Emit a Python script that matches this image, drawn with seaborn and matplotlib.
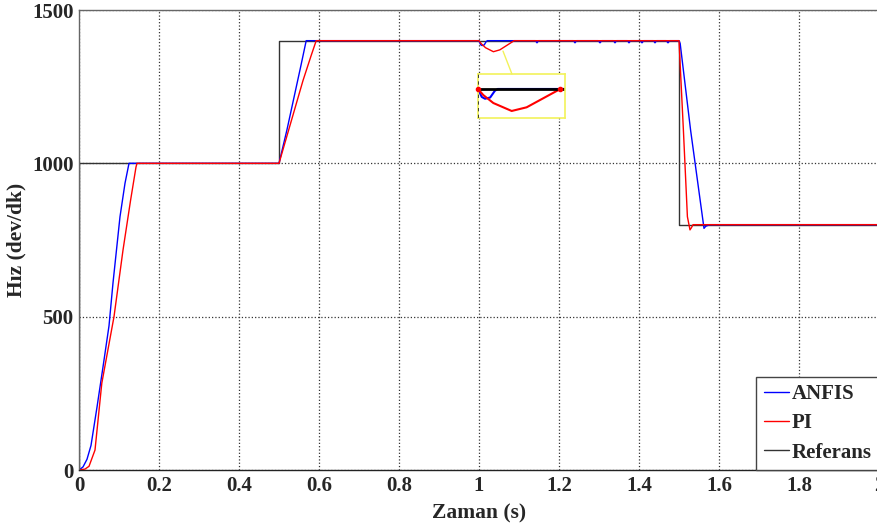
import numpy as np
import pandas as pd
import matplotlib
matplotlib.use("Agg")
import matplotlib.pyplot as plt
import seaborn as sns
from matplotlib.patches import ConnectionPatch

sns.set_theme(style="white")
plt.rcParams['font.family'] = ['Liberation Serif', 'DejaVu Serif']
plt.rcParams['font.weight'] = 'bold'

# ---- data ----
ref_t = [0, 0, 0.5, 0.5, 1.5, 1.5, 2.0]
ref_v = [0, 1000, 1000, 1400, 1400, 800, 800]

anfis_t = [0, 0.01, 0.02, 0.03, 0.045, 0.06, 0.075, 0.085, 0.1025, 0.115, 0.125,
           0.5, 0.52, 0.54, 0.555, 0.568,
           1.0, 1.004, 1.0075, 1.013, 1.018, 1.021,
           1.141, 1.145, 1.149, 1.236, 1.240, 1.244, 1.298, 1.3025, 1.307,
           1.336, 1.340, 1.344, 1.371, 1.375, 1.379, 1.403, 1.4075, 1.412,
           1.436, 1.440, 1.444, 1.468, 1.4725, 1.477,
           1.5, 1.503, 1.529, 1.5625, 1.567, 1.577, 2.0]
anfis_v = [0, 10, 35, 80, 205, 336, 470, 610, 826, 935, 1000,
           1000, 1110, 1230, 1320, 1400,
           1400, 1387, 1384, 1386, 1397, 1400,
           1400, 1393, 1400, 1400, 1393, 1400, 1400, 1393, 1400,
           1400, 1393, 1400, 1400, 1393, 1400, 1400, 1393, 1400,
           1400, 1393, 1400, 1400, 1393, 1400,
           1400, 1390, 1108, 788, 795, 800, 800]

pi_t = [0, 0.015, 0.025, 0.04, 0.057, 0.0875, 0.11, 0.129, 0.1425, 0.145,
        0.5, 0.52, 0.54, 0.56, 0.58, 0.593,
        1.0, 1.0057, 1.0164, 1.036, 1.052, 1.07, 1.088,
        1.5, 1.511, 1.521, 1.5275, 1.531, 1.535, 2.0]
pi_v = [0, 3, 12, 65, 283, 500, 717, 880, 988, 1000,
        1000, 1090, 1180, 1270, 1350, 1400,
        1400, 1390, 1377, 1364, 1370, 1385, 1400,
        1400, 1108, 826, 783, 790, 800, 800]

x_ticks = [0, 0.2, 0.4, 0.6, 0.8, 1.0, 1.2, 1.4, 1.6, 1.8, 2.0]
x_tick_labels = ["0", "0.2", "0.4", "0.6", "0.8", "1", "1.2", "1.4", "1.6", "1.8", "2"]
y_ticks = [0, 500, 1000, 1500]
y_tick_labels = ["0", "500", "1000", "1500"]

# ---- figure ----
fig = plt.figure(figsize=(8.78, 5.28), dpi=100)
ax = fig.add_axes([79/878, 58/528, 800/878, 460/528])

def draw_ref(a, lw, color):
    sns.lineplot(x=ref_t, y=ref_v, ax=a, color=color, lw=lw, sort=False,
                 estimator=None, label="Referans")

def draw_anfis(a, lw):
    sns.lineplot(x=anfis_t, y=anfis_v, ax=a, color="#0000ff", lw=lw, sort=False,
                 estimator=None, label="ANFIS")

def draw_pi(a, lw):
    sns.lineplot(x=pi_t, y=pi_v, ax=a, color="#ff0000", lw=lw, sort=False,
                 estimator=None, label="PI")

# main: reference underneath, red on top
draw_ref(ax, 1.0, "#333333")
draw_anfis(ax, 1.0)
draw_pi(ax, 1.0)

ax.set_xlim(0, 2)
ax.set_ylim(0, 1500)
ax.set_xticks(x_ticks)
ax.set_xticklabels(x_tick_labels)
ax.set_yticks(y_ticks)
ax.set_yticklabels(y_tick_labels)
ax.tick_params(direction='in', length=5, width=0.8, color='#555555',
               labelsize=15, pad=4)
for lab in ax.get_xticklabels() + ax.get_yticklabels():
    lab.set_fontweight('bold')
ax.grid(True, linestyle=':', color='#333333', linewidth=0.9)
for s in ax.spines.values():
    s.set_color('#666666')
    s.set_linewidth(1.0)
ax.spines['bottom'].set_color('#222222')
ax.set_xlabel("Zaman (s)", fontsize=15.5, fontweight='bold', labelpad=6)
ax.set_ylabel("Hız (dev/dk)", fontsize=15.5, fontweight='bold', labelpad=4)

# legend order ANFIS, PI, Referans
handles, labels = ax.get_legend_handles_labels()
order = [labels.index("ANFIS"), labels.index("PI"), labels.index("Referans")]
leg = ax.legend([handles[i] for i in order], [labels[i] for i in order],
                loc='lower right', bbox_to_anchor=(1.0, 0.0), borderaxespad=0,
                fontsize=15, handlelength=1.2, handletextpad=0.15,
                labelspacing=0.45, borderpad=0.35, fancybox=False,
                framealpha=1, edgecolor='#444444')
for t in leg.get_texts():
    t.set_fontweight('bold')
leg.get_frame().set_linewidth(1.0)
for h in leg.get_lines():
    h.set_linewidth(1.0)

# ---- inset (zoom of the disturbance at t = 1 s) ----
ins = fig.add_axes([478/878, 1 - 118/528, 87/878, 44/528])
ins.set_facecolor('white')
draw_anfis(ins, 1.5)
draw_pi(ins, 1.5)
draw_ref(ins, 2.0, "#000000")
if ins.get_legend():
    ins.get_legend().remove()
ins.set_xlim(1.0, 1.093)
ins.set_ylim(1352.5, 1424.5)
ins.set_xticks([])
ins.set_yticks([])
ins.set_xlabel("")
ins.set_ylabel("")
for s in ins.spines.values():
    s.set_color('#f2f25a')
    s.set_linewidth(1.2)
ins.axvline(1.0, color='#222222', ls=(0, (2, 2)), lw=1.2, zorder=5)
ins.plot([1.0, 1.088], [1400, 1400], ls='none', marker='o', ms=3,
         color='#ff0000', clip_on=False, zorder=6)

con = ConnectionPatch(xyA=(1.06, 1366), coordsA=ax.transData,
                      xyB=(0.39, 1.0), coordsB=ins.transAxes,
                      color='#f2f25a', lw=1.0)
fig.add_artist(con)

fig.savefig("out.png", dpi=100)
